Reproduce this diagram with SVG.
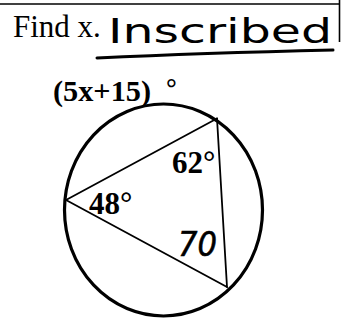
<svg xmlns="http://www.w3.org/2000/svg" width="344" height="327" viewBox="0 0 344 327">
<style>
.serif{font-family:"Liberation Serif","Times New Roman",serif;fill:#000}
.bold{font-weight:bold}
.hand{font-family:"DejaVu Sans","Liberation Sans",sans-serif;fill:#000;stroke:#000}
.thin{stroke:#000;stroke-width:1.8;fill:none;stroke-linecap:round}
</style>
<rect width="344" height="327" fill="#fff"/>
<g id="border">
<line x1="0" y1="4" x2="340" y2="4" stroke="#000" stroke-width="1.6"/>
<line x1="339.5" y1="0" x2="339.5" y2="42" stroke="#000" stroke-width="1.6"/>
</g>
<g id="title">
<text class="serif" x="13" y="37" font-size="31">Find x.</text>
<text class="hand" x="108" y="43" font-size="33" stroke-width="0" textLength="224" lengthAdjust="spacingAndGlyphs">Inscribed</text>
<path d="M97 58 Q200 53 333 50" stroke="#000" stroke-width="3" fill="none" stroke-linecap="round"/>
</g>
<g id="circle">
<ellipse cx="163.5" cy="210" rx="99" ry="106" fill="none" stroke="#000" stroke-width="3.2"/>
</g>
<g id="connectors">
<line class="thin" x1="66" y1="200" x2="217" y2="118.5"/>
<line class="thin" x1="217" y1="118.5" x2="227" y2="287"/>
<line class="thin" x1="66" y1="200" x2="227" y2="287"/>
</g>
<g id="labels">
<text class="serif bold" x="53" y="101" font-size="29" textLength="98" lengthAdjust="spacingAndGlyphs">(5x+15)</text>
<text class="serif bold" x="166" y="97" font-size="27">°</text>
<text class="serif bold" x="172" y="173" font-size="31">62°</text>
<text class="serif bold" x="89" y="214" font-size="31">48°</text>
<text class="hand" x="178" y="256" font-size="34" font-style="italic" stroke-width="0.6" textLength="39" lengthAdjust="spacingAndGlyphs">70</text>
</g>
</svg>
